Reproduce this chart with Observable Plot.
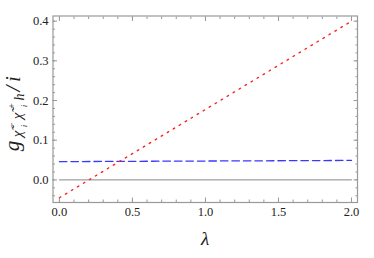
<!DOCTYPE html>
<html><head><meta charset="utf-8">
<script src="https://cdn.jsdelivr.net/npm/d3@7"></script>
<script src="https://cdn.jsdelivr.net/npm/@observablehq/plot@0.6"></script>
<style>body{margin:0;background:#fff}</style>
</head><body><div id="chart"></div>
<script>
const lambda = [0, 2];
const redSeries = [-0.045, 0.40];
const blueSeries = [0.046, 0.049];
const zeroSeries = [0, 0];
const xMajor = [0, 0.5, 1, 1.5, 2];
const xMinor = d3.range(0, 2.01, 0.1).map(v => +v.toFixed(2));
const yMajor = [0, 0.1, 0.2, 0.3, 0.4];
const yMinor = d3.range(-0.04, 0.411, 0.02).map(v => +v.toFixed(2));

const rows = (ys) => lambda.map((x, i) => ({x, y: ys[i]}));
const fmt = d3.format(".1f");
const gray = "#999";
const font = "Liberation Serif";

const plot = Plot.plot({
  width: 374, height: 258,
  marginLeft: 52.5, marginRight: 17, marginTop: 15.5, marginBottom: 56,
  x: {domain: [-0.044, 2.041]},
  y: {domain: [-0.057, 0.413]},
  style: {fontFamily: font, fontSize: "12.5px", color: "#222", background: "#fff"},
  marks: [
    Plot.axisX(xMinor, {anchor: "bottom", tickSize: -2.5, text: null, stroke: gray, label: null}),
    Plot.axisX(xMinor, {anchor: "top", tickSize: -2.5, text: null, stroke: gray, label: null}),
    Plot.axisX(xMajor, {anchor: "bottom", tickSize: -4.5, tickPadding: 9, tickFormat: fmt, stroke: gray, fill: "#222", label: null}),
    Plot.axisX(xMajor, {anchor: "top", tickSize: -4.5, text: null, stroke: gray, label: null}),
    Plot.axisY(yMinor, {anchor: "left", tickSize: -2.5, text: null, stroke: gray, label: null}),
    Plot.axisY(yMinor, {anchor: "right", tickSize: -2.5, text: null, stroke: gray, label: null}),
    Plot.axisY(yMajor, {anchor: "left", tickSize: -4.5, tickPadding: 9, tickFormat: fmt, stroke: gray, fill: "#222", label: null}),
    Plot.axisY(yMajor, {anchor: "right", tickSize: -4.5, text: null, stroke: gray, label: null}),
    Plot.line(rows(zeroSeries), {x: "x", y: "y", stroke: "#888", strokeWidth: 1}),
    Plot.line(rows(blueSeries), {x: "x", y: "y", stroke: "#3838ff", strokeWidth: 1.3, strokeDasharray: "7.5,4"}),
    Plot.line(rows(redSeries), {x: "x", y: "y", stroke: "#ff2020", strokeWidth: 1.4, strokeDasharray: "1.6,5.4"}),
    Plot.frame({stroke: gray, strokeWidth: 1.2})
  ]
});
document.getElementById("chart").append(plot);

const svg = d3.select(plot);
svg.append("text")
  .attr("x", 205).attr("y", 245)
  .attr("text-anchor", "middle")
  .attr("font-family", font).attr("font-style", "italic").attr("font-size", 19)
  .attr("fill", "#222")
  .text("λ");

// y-axis title g_{χ̃_i^- χ̃_i^+ h}/i, rotated; tspans placed in rotated frame
const yl = svg.append("text")
  .attr("transform", "rotate(-90)")
  .attr("font-family", font).attr("font-style", "italic")
  .attr("fill", "#222");
const parts = [
  ["g", -146, 19, 21],
  ["χ\u0303", -134, 22, 15],
  ["−", -125, 15, 10],
  ["i", -126, 27, 9],
  ["χ\u0303", -116, 22, 15],
  ["+", -106, 15, 10],
  ["i", -106, 27, 9],
  ["h", -97, 24, 14],
  ["/", -88.5, 20, 21],
  ["i", -79, 20, 21]
];
for (const [t, x, y, s] of parts) {
  yl.append("tspan").attr("x", x).attr("y", y).attr("font-size", s).text(t);
}
</script></body></html>
